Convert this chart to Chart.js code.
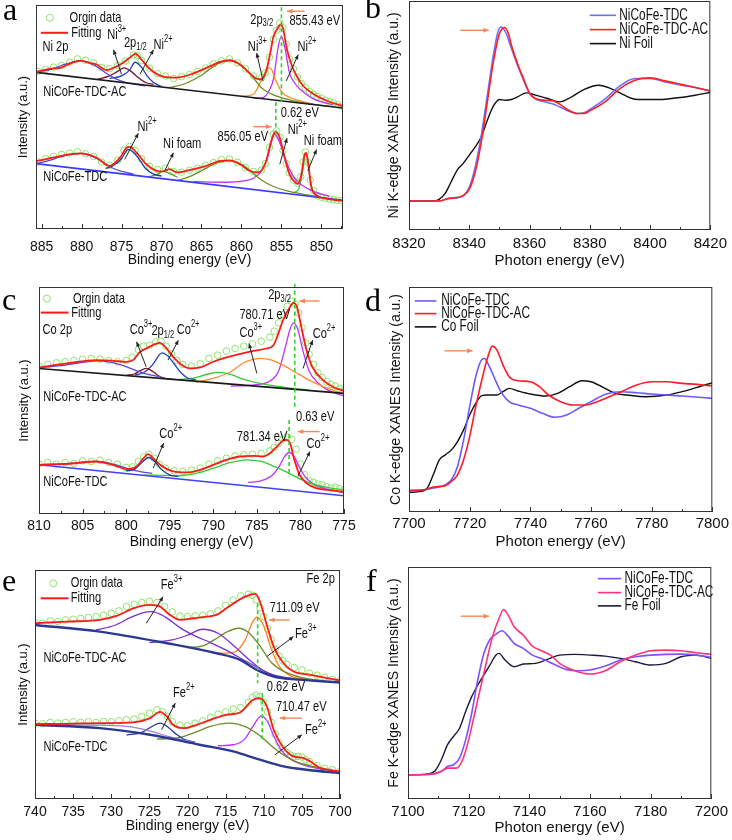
<!DOCTYPE html>
<html lang="en">
<head>
<meta charset="UTF-8">
<title>NiCoFe-TDC XPS and XANES</title>
<style>
  body { margin: 0; background: #fff; }
  #fig { position: relative; width: 732px; height: 840px; background: #fff; }
  #fig canvas { position: absolute; }
</style>
</head>
<body>
<div id="fig">
  <canvas id="pa" width="365" height="280" style="left:0;top:0"></canvas>
  <canvas id="pb" width="367" height="280" style="left:365px;top:0"></canvas>
  <canvas id="pc" width="365" height="280" style="left:0;top:280px"></canvas>
  <canvas id="pd" width="367" height="280" style="left:365px;top:280px"></canvas>
  <canvas id="pe" width="365" height="280" style="left:0;top:560px"></canvas>
  <canvas id="pf" width="367" height="280" style="left:365px;top:560px"></canvas>
</div>
<script src="https://cdn.jsdelivr.net/npm/chart.js"></script>
<script>
// ---------- data: [energy eV, intensity a.u.] ----------

// a: Ni 2p XPS
const aTicks = [885, 880, 875, 870, 865, 860, 855, 850];
const aAcData = [[885.5,482],[884.5,488],[883.5,495],[882.5,500],[881.5,510],[880.5,520],[879.5,516],[878.5,508],[877.5,494],[876.5,490],[875.5,500],[874.5,514],[873.5,532],[873,530],[872.5,515],[871.5,492],[870.5,475],[869.5,468],[868.5,460],[867.5,466],[866.5,472],[865.5,482],[864.5,492],[863.5,505],[862.5,514],[861.5,520],[860.5,508],[859.5,490],[858.5,468],[857.5,462],[857,478],[856.5,525],[856,580],[855.6,608],[855.2,630],[854.8,615],[854.4,565],[854,520],[853.5,490],[853,465],[852.5,445],[852,432],[851.5,420],[851,412],[850.5,405],[850,400],[849.5,394],[849,390],[848.5,385],[848,380],[847.5,376]];
const aAcFit = [[885.7,480],[884,490],[882.7,493],[881,510],[880.2,515],[879,508],[878.1,503],[876.9,486],[875.8,495],[875,505],[874.4,516],[873.5,533],[873.3,536],[872.5,518],[871.5,490],[869.8,466],[868.1,463],[866,476],[863.9,498],[862.7,511],[861.5,516],[860.2,503],[859.2,481],[858.1,460],[857.5,458],[856.9,483],[856.4,538],[856,588],[855.5,613],[855.1,626],[854.8,613],[854.3,548],[853.75,503],[853.1,468],[852.3,438],[851,413],[849.4,393],[847.3,376]];
const aAcBase = [[885.7,479],[847.3,370]];
const aAcSat1 = [[885.7,481],[884,487],[882.5,500],[881,511],[880.2,514],[879,507],[878,495],[877,478],[876,463],[875,452],[873.5,443],[872,438]];
const aAcNi3a = [[878,458],[876.5,468],[875.5,482],[874.7,493],[873.8,482],[873,465],[872,448],[871,442]];
const aAcNi2a = [[876.5,460],[875,468],[874,486],[873.3,510],[872.5,495],[871.8,468],[871,448],[870,436]];
const aAcSat2 = [[869,432],[867,445],[865,470],[863.5,497],[862.5,510],[861.5,515],[860.5,508],[859.5,490],[858.5,462],[857.5,432],[856,410],[854,395],[852,385],[849,375]];
const aAcNi3b = [[860,406],[858.5,412],[857.8,440],[857.2,470],[856.7,493],[856.3,490],[855.8,460],[855,420],[854,403],[853,394],[851,382]];
const aAcNi2b = [[858.5,400],[857.3,402],[856.5,425],[856,458],[855.4,558],[855,588],[854.6,558],[854,478],[853.3,445],[852.7,428],[851,398],[848.5,380]];

const aTdcData = [[885.5,205],[884.5,215],[883.5,222],[882.5,228],[881.5,232],[880.5,236],[879.5,230],[878.5,222],[877.5,205],[876.5,195],[875.5,210],[874.7,240],[874,252],[873.3,240],[872.5,215],[871.5,192],[870.5,182],[869.5,186],[868.5,176],[867.5,174],[866.5,180],[865.5,186],[864.5,195],[863.5,203],[862.5,212],[861.5,214],[860.5,204],[859.5,188],[858.5,176],[857.5,180],[857,200],[856.5,250],[856,290],[855.6,300],[855.2,280],[854.8,240],[854.4,200],[854,172],[853.5,150],[853,140],[852.6,160],[852.3,205],[852,235],[851.7,205],[851.4,150],[851,118],[850.5,102],[850,97],[849.5,94],[849,92],[848.5,90],[848,88],[847.5,86]];
const aTdcFit = [[885.7,208],[885.2,210],[882.7,223],[880.2,231],[878.1,218],[876.5,193],[875.2,218],[874.4,248],[874,251],[873.1,233],[871.9,198],[870.6,178],[869.8,176],[869,183],[868.1,173],[866.5,180],[864.4,193],[862.7,208],[861.5,210],[860.2,198],[859,178],[857.9,173],[856.9,208],[856.4,258],[855.9,293],[855.6,296],[855.2,278],[854.6,218],[854,168],[853.3,143],[852.9,138],[852.5,168],[852.1,228],[851.9,233],[851.7,208],[851.25,128],[850.6,103],[849.4,93],[847.3,86]];
const aTdcBase = [[885.7,200],[847.3,88]];
const aTdcSat1 = [[885.7,200],[884,210],[882.5,222],[881,229],[880.2,231],[879,225],[878,214],[877,198],[876,185],[875,176],[873.5,168]];
const aTdcNi2a = [[877,185],[876,195],[875,215],[874.2,243],[873.5,235],[872.7,210],[872,185],[871,168],[870,162]];
const aTdcFoam1 = [[871.5,160],[870.5,167],[869.8,176],[869,170],[868,158]];
const aTdcSat2 = [[868,148],[866.5,160],[865,178],[863.5,198],[862.5,206],[861.5,209],[860.5,204],[859.5,190],[858.5,170],[857.5,150],[856,130],[854,115],[852,105],[850,97]];
const aTdcNi2b = [[866,145],[862,143],[859.5,148],[858.5,155],[857.5,178],[856.8,215],[856.3,262],[855.9,290],[855.5,280],[855,250],[854.3,200],[853.5,160],[852.5,135],[851,115],[849,100]];
const aTdcFoam2 = [[853.5,110],[852.8,125],[852.4,170],[852,228],[851.7,210],[851.4,150],[851,112],[850.3,100]];

// b: Ni K-edge XANES
const bTicks = [8320, 8340, 8360, 8380, 8400, 8420];
const bTdc = [[8320,87],[8330,87],[8333,95],[8336,98],[8338,103],[8340,128],[8342,190],[8344,285],[8346,405],[8348,525],[8349.5,595],[8350.5,610],[8352,595],[8354,545],[8356,495],[8358,450],[8360,410],[8362,393],[8365,385],[8368,378],[8370,370],[8373,357],[8376,350],[8378,352],[8380,362],[8385,393],[8390,433],[8395,455],[8400,455],[8405,445],[8410,436],[8415,428],[8420,418]];
const bAc = [[8320,87],[8330,87],[8333,94],[8336,97],[8338,103],[8340,122],[8342,175],[8344,265],[8346,385],[8348,505],[8350,590],[8351.8,608],[8353,590],[8354,555],[8356,500],[8358,455],[8360,412],[8362,395],[8365,390],[8368,388],[8370,378],[8373,360],[8376,350],[8378,350],[8380,358],[8385,385],[8390,425],[8395,450],[8400,457],[8405,448],[8410,438],[8415,428],[8420,418]];
const bFoil = [[8320,87],[8328,87],[8330,92],[8332,110],[8334,145],[8336,180],[8338,200],[8340,225],[8342,250],[8344,280],[8346,330],[8348,372],[8350,392],[8352,390],[8354,392],[8356,400],[8359,412],[8362,405],[8366,395],[8370,385],[8374,400],[8378,422],[8383,435],[8387,425],[8390,412],[8395,393],[8400,392],[8405,393],[8410,398],[8415,405],[8420,413]];

// c: Co 2p XPS
const cTicks = [810, 805, 800, 795, 790, 785, 780, 775];
const cAcData = [[810,445],[809,450],[808,455],[807,458],[806,462],[805,466],[804,468],[803,466],[802,462],[801,458],[800,462],[799.3,472],[798.6,495],[798,505],[797.3,508],[796.6,518],[796,520],[795.4,505],[794.8,482],[794.2,462],[793.5,450],[792.5,445],[791.5,452],[790.5,468],[789.5,478],[788.5,490],[787.5,498],[786.5,505],[785.5,512],[784.5,520],[783.5,532],[783,550],[782.5,575],[782,600],[781.5,625],[781,640],[780.6,632],[780.2,605],[779.8,560],[779.4,515],[779,480],[778.5,450],[778,425],[777.5,410],[777,398],[776.5,390],[776,385],[775.5,378],[775,372]];
const cAcFit = [[810,441],[806.8,453],[803.4,463],[801.5,461],[800,458],[799.2,463],[798.4,488],[797.7,498],[796.7,511],[796.1,515],[795.6,505],[794.6,473],[793.6,448],[792.7,438],[791.5,441],[790,458],[788.5,471],[787,481],[785.4,491],[783.9,498],[783.1,508],[782.6,538],[782,583],[781.2,623],[780.8,635],[780.4,623],[779.9,563],[779.3,493],[778.6,441],[777.4,403],[776.3,383],[775,370]];
const cAcBase = [[810,438],[775,363]];
const cAcSat1 = [[810,440],[807,448],[805,456],[803.4,461],[802,458],[800.5,448],[799,433],[797.5,420],[796,413]];
const cAcCo3a = [[800,417],[799,422],[798.3,432],[797.7,438],[797,430],[796.3,416],[795.5,408],[794.5,405]];
const cAcCo2a = [[799,418],[798,425],[797,448],[796.3,475],[795.9,485],[795.2,475],[794.5,452],[793.7,425],[793,410],[792,403]];
const cAcSat2 = [[794,404],[792,410],[790.5,422],[789.4,426],[788,420],[786.5,405],[784.5,392],[782,382],[779,373]];
const cAcCo3b = [[792,397],[790,408],[788,428],[786.5,455],[785.3,466],[784.5,468],[783.3,463],[782,448],[780.5,425],[779,403],[777.5,385],[776,370],[775,360]];
const cAcCo2b = [[788,385],[785.5,388],[783.5,400],[782.5,430],[781.7,505],[781.2,555],[780.8,575],[780.3,555],[779.7,490],[779,430],[778,395],[777,375],[775,355]];

const cTdcData = [[810,150],[809,155],[808,150],[807,155],[806,152],[805,160],[804,158],[803,162],[802,155],[801,150],[800,140],[799.3,142],[798.6,158],[798,172],[797.4,180],[796.8,168],[796.2,150],[795.5,138],[794.5,130],[793.5,128],[792.5,132],[791.5,138],[790.5,150],[789.5,160],[788.5,168],[787.5,175],[786.5,178],[785.5,180],[784.5,182],[783.5,190],[783,200],[782.5,212],[782,225],[781.5,232],[781,225],[780.5,195],[780,150],[779.5,118],[779,100],[778.5,95],[778,90],[777.5,88],[777,82],[776.5,78],[776,80],[775.5,76],[775,72]];
const cTdcFit = [[810,148],[806.8,151],[803.4,158],[801.5,148],[800,135],[798.8,143],[798,168],[797.5,180],[796.9,168],[796.1,148],[794.6,128],[793.1,125],[791.5,133],[790,148],[788.5,163],[787,173],[785.4,175],[784.3,173],[783.5,183],[782.7,203],[782,221],[781.6,223],[781.2,213],[780.7,163],[780.1,118],[779.3,93],[778.2,78],[776.3,71],[775,67]];
const cTdcBase = [[810,148],[775,55]];
const cTdcSat1 = [[810,148],[806.5,152],[803.4,158],[801.5,150],[800,138],[798.5,128],[797,122]];
const cTdcCo2a = [[800,130],[799,135],[798.2,155],[797.4,170],[796.7,158],[796,135],[795,118],[794,113]];
const cTdcSat2 = [[798,118],[794,115],[791.5,125],[789.5,142],[788,155],[786.2,163],[784.5,158],[783,143],[781.5,125],[780,105],[778.5,90],[776.5,78],[775,72]];
const cTdcCo2b = [[786,95],[784.5,100],[783.3,115],[782.5,140],[781.9,170],[781.3,185],[780.7,172],[780.1,140],[779.4,110],[778.5,90],[777,75],[775,64]];

// d: Co K-edge XANES
const dTicks = [7700, 7720, 7740, 7760, 7780, 7800];
const dTdc = [[7700,64],[7705,67],[7708,72],[7710,75],[7712,82],[7714,97],[7716,137],[7718,217],[7720,317],[7722,407],[7724,459],[7725,462],[7726,447],[7728,407],[7730,367],[7733,332],[7736,322],[7740,312],[7744,297],[7748,285],[7752,292],[7756,312],[7760,332],[7765,355],[7770,362],[7775,359],[7780,355],[7790,349],[7800,342]];
const dAc = [[7700,65],[7705,67],[7708,75],[7710,77],[7712,79],[7714,92],[7716,112],[7718,157],[7720,227],[7722,317],[7724,397],[7726,467],[7727.5,499],[7729,487],[7731,442],[7733,407],[7736,395],[7740,392],[7743,377],[7746,352],[7750,332],[7754,322],[7758,322],[7762,332],[7766,347],[7770,362],[7775,382],[7780,392],[7785,392],[7790,387],[7795,384],[7800,379]];
const dFoil = [[7700,59],[7704,62],[7706,72],[7708,112],[7710,157],[7712,172],[7714,187],[7716,212],[7718,247],[7720,292],[7722,327],[7724,350],[7726,352],[7729,352],[7731,362],[7733,372],[7736,364],[7740,355],[7745,349],[7749,357],[7753,377],[7757,395],[7760,392],[7764,375],[7768,357],[7772,352],[7778,347],[7785,352],[7790,362],[7795,375],[7800,389]];

// e: Fe 2p XPS
const eTicks = [740, 735, 730, 725, 720, 715, 710, 705, 700];
const eAcData = [[740,530],[739,528],[738,535],[737,533],[736,538],[735,540],[734,542],[733,545],[732,548],[731,552],[730,558],[729,565],[728,578],[727,585],[726,590],[725,594],[724,590],[723,578],[722,562],[721,550],[720,548],[719,550],[718,552],[717,556],[716,565],[715,582],[714,598],[713,610],[712,615],[711.5,612],[711,598],[710.5,575],[710,548],[709.5,512],[709,478],[708.5,450],[708,430],[707.5,415],[707,405],[706,395],[705,388],[704,378],[703,372],[702,366],[701,360],[700,356]];
const eAcFit = [[740,528],[735.8,533],[731.5,538],[729.3,550],[727.1,573],[724.9,583],[723.6,578],[722.3,553],[721,538],[719.2,543],[717.5,548],[716.2,553],[714.9,573],[713.6,593],[712.2,610],[711.1,616],[710.5,593],[709.6,523],[708.7,458],[707.4,408],[706.1,383],[703.9,373],[701.7,363],[700,356]];
const eAcBase = [[740,523],[731.5,503],[722.7,468],[716.2,438],[713.1,418],[710.9,388],[708.7,368],[706.1,360],[700,350]];
const eAcSat1 = [[732,508],[729.5,522],[727.5,545],[725.8,560],[724.7,563],[723,548],[721,515],[719,490],[717,470],[715,448],[712,410],[709,375],[706,360]];
const eAcSat2 = [[725,470],[722,478],[720,492],[718,510],[716,498],[714,462],[712,420],[710,385],[708,365],[705,357]];
const eAcFe3a = [[720,455],[718,460],[716.5,478],[715,500],[713.3,513],[712,500],[710.5,460],[709,410],[707.5,385],[705,365],[702,355]];
const eAcFe3b = [[716,438],[714,440],[712.5,475],[711.5,530],[710.9,546],[710,520],[709,450],[708,400],[706.5,370],[704,358]];

const eTdcData = [[740,228],[739,226],[738,230],[737,228],[736,230],[735,232],[734,230],[733,232],[732,230],[731,233],[730,232],[729,235],[728,238],[727,240],[726,248],[725,258],[724,268],[723.3,262],[722.6,248],[722,232],[721,222],[720,220],[719,228],[718,235],[717,245],[716,255],[715,262],[714,270],[713,275],[712,290],[711.5,305],[711,312],[710.5,308],[710,290],[709.5,262],[709,230],[708.5,195],[708,170],[707.5,152],[707,140],[706.5,132],[706,128],[705.5,128],[705,126],[704.5,118],[704,112],[703,100],[702,92],[701,88],[700,84]];
const eTdcFit = [[740,225],[735.8,226],[731.5,228],[727.1,230],[724.9,243],[723.6,262],[722.7,248],[721.9,223],[720.5,213],[718.8,223],[717,238],[714.9,253],[713.1,260],[711.4,298],[710.5,303],[709.6,278],[708.7,208],[707.4,153],[706.1,128],[704.8,123],[703.9,113],[702.6,93],[700,83]];
const eTdcBase = [[740,223],[731.5,213],[724.9,193],[718.4,163],[714,143],[710.5,118],[707.4,98],[704.4,88],[700,78]];
const eTdcSat1 = [[740,223],[733,222],[728,218],[725,205],[722,185],[719,170]];
const eTdcFe2a = [[728,192],[726,200],[724.5,220],[723.6,228],[722.5,215],[721.5,195],[720.5,180],[719,170]];
const eTdcSat2 = [[724,180],[721,185],[719,200],[717,218],[714.5,228],[712.5,218],[710.5,190],[708.5,150],[706.5,120],[704,100],[701,88]];
const eTdcFe2b = [[716,160],[714,163],[712.5,180],[711.5,215],[710.3,250],[709.5,232],[708.7,190],[707.8,150],[706.5,120],[704.5,100],[702,88]];

// f: Fe K-edge XANES
const fTicks = [7100, 7120, 7140, 7160, 7180, 7200];
const fTdc = [[7100,73],[7106,73],[7110,80],[7112,90],[7113,98],[7115,103],[7117,123],[7119,178],[7121,258],[7123,358],[7125,438],[7127,480],[7129,496],[7131,506],[7133,490],[7135,468],[7138,453],[7141,433],[7144,423],[7148,406],[7152,390],[7156,386],[7160,388],[7165,400],[7170,418],[7175,428],[7180,433],[7190,436],[7195,433],[7200,426]];
const fAc = [[7100,73],[7108,75],[7111,83],[7113,93],[7116,93],[7118,118],[7120,178],[7122,258],[7124,338],[7126,418],[7128,493],[7130,543],[7131.5,570],[7133,553],[7135,518],[7138,493],[7141,460],[7144,446],[7147,433],[7150,408],[7155,386],[7160,376],[7165,386],[7170,413],[7175,433],[7180,446],[7185,448],[7190,446],[7195,440],[7200,435]];
const fFoil = [[7100,73],[7106,75],[7109,86],[7111,118],[7113,163],[7115,188],[7117,213],[7119,263],[7121,308],[7123,343],[7125,373],[7127,403],[7129,433],[7130,438],[7132,418],[7135,398],[7138,406],[7142,408],[7146,420],[7150,433],[7155,435],[7160,433],[7165,430],[7170,423],[7175,413],[7180,403],[7185,408],[7190,428],[7195,433],[7200,423]];

const xanesNames = ['NiCoFe-TDC', 'NiCoFe-TDC-AC'];

// ---------- styling / drawing ----------
const SANS = "'Liberation Sans', Arial, sans-serif";
const SERIF = "'Liberation Serif', 'Times New Roman', serif";
const RED = '#ff1a1a';
const DOT = '#8de36b';
const SQUEEZE = 0.74;   // the source figure's lettering is horizontally compressed

const pts = arr => arr.map(([x, y]) => ({x, y}));
const line = (arr, color, width, order, label) => ({
  label: label || '', data: pts(arr), borderColor: color, borderWidth: width,
  pointRadius: 0, fill: false, cubicInterpolationMode: 'monotone', order
});
const circles = arr => ({
  label: 'Orgin data', data: pts(arr), showLine: false, borderColor: DOT,
  pointRadius: 3.3, pointBorderColor: DOT, pointBackgroundColor: 'rgba(0,0,0,0)',
  pointBorderWidth: 1, order: 20
});

function richText(ctx, x, y, text, size) {
  const parts = text.split(/(\^\{[^}]*\}|_\{[^}]*\})/).filter(Boolean);
  ctx.save();
  ctx.translate(x, y);
  ctx.scale(SQUEEZE, 1);
  let cx = 0;
  parts.forEach(p => {
    let t = p, fs = size, dy = 0;
    if (p[0] === '^') { t = p.slice(2, -1); fs = size * 0.68; dy = -size * 0.38; }
    else if (p[0] === '_') { t = p.slice(2, -1); fs = size * 0.68; dy = size * 0.28; }
    ctx.font = fs + 'px ' + SANS;
    ctx.fillText(t, cx, dy);
    cx += ctx.measureText(t).width;
  });
  ctx.restore();
}

function arrow(ctx, x1, y1, x2, y2, color, w, head) {
  ctx.strokeStyle = color; ctx.fillStyle = color; ctx.lineWidth = w;
  ctx.beginPath(); ctx.moveTo(x1, y1); ctx.lineTo(x2, y2); ctx.stroke();
  const a = Math.atan2(y2 - y1, x2 - x1);
  ctx.beginPath();
  ctx.moveTo(x2, y2);
  ctx.lineTo(x2 - head * Math.cos(a - 0.42), y2 - head * Math.sin(a - 0.42));
  ctx.lineTo(x2 - head * Math.cos(a + 0.42), y2 - head * Math.sin(a + 0.42));
  ctx.closePath(); ctx.fill();
}

const decoCfg = {};

const deco = {
  id: 'deco',
  afterDatasetsDraw(chart) {
    const d = decoCfg[chart.canvas.id];
    const {ctx, chartArea: ca} = chart;
    const sx = chart.scales.x, sy = chart.scales.y;
    const X = v => sx.getPixelForValue(v), Y = v => sy.getPixelForValue(v);
    ctx.save();

    ctx.setLineDash([4, 3]); ctx.strokeStyle = '#2fd42f'; ctx.lineWidth = 1.6;
    (d.guides || []).forEach(([e, y1, y2]) => {
      ctx.beginPath(); ctx.moveTo(X(e), Y(y1)); ctx.lineTo(X(e), Y(y2)); ctx.stroke();
    });
    ctx.setLineDash([]);
    (d.pointers || []).forEach(([e1, y1, e2, y2]) => arrow(ctx, X(e1), Y(y1), X(e2), Y(y2), '#222', 1, 5));
    (d.shifts || []).forEach(([e1, y1, e2, y2]) => arrow(ctx, X(e1), Y(y1), X(e2), Y(y2), '#f0895a', 1.4, 6));

    ctx.textBaseline = 'middle'; ctx.textAlign = 'left';
    (d.notes || []).forEach(([e, y, t]) => { ctx.fillStyle = '#111'; richText(ctx, X(e), Y(y), t, 15); });

    if (d.fitKey) {
      const k = d.fitKey;
      ctx.strokeStyle = DOT; ctx.lineWidth = 1;
      ctx.beginPath(); ctx.arc(X(k.dot[0]), Y(k.dot[1]), 3.5, 0, Math.PI * 2); ctx.stroke();
      ctx.strokeStyle = RED; ctx.lineWidth = 2;
      ctx.beginPath(); ctx.moveTo(X(k.line[0]), Y(k.line[2])); ctx.lineTo(X(k.line[1]), Y(k.line[2])); ctx.stroke();
    }

    if (d.key) {
      const k = d.key;
      k.ys.forEach((y, i) => {
        const ds = chart.data.datasets[i];
        ctx.strokeStyle = ds.borderColor; ctx.lineWidth = 1.6;
        ctx.beginPath(); ctx.moveTo(X(k.x1), Y(y)); ctx.lineTo(X(k.x2), Y(y)); ctx.stroke();
        ctx.fillStyle = '#111';
        richText(ctx, X(k.tx), Y(y), ds.label, 16);
      });
    }

    // frame and inward ticks
    ctx.strokeStyle = '#333'; ctx.lineWidth = 1;
    ctx.strokeRect(ca.left + 0.5, ca.top + 0.5, ca.width - 1, ca.height - 1);
    const tv = d.ticks, step = tv[1] - tv[0];
    const lo = Math.min(sx.min, sx.max), hi = Math.max(sx.min, sx.max);
    const tick = (v, len) => {
      if (v < lo - 1e-6 || v > hi + 1e-6) return;
      const px = Math.round(X(v)) + 0.5;
      ctx.beginPath(); ctx.moveTo(px, ca.bottom); ctx.lineTo(px, ca.bottom - len); ctx.stroke();
    };
    tv.forEach(v => tick(v, 5));
    const minors = [tv[0] - step / 2, ...tv.map(v => v + step / 2)];
    minors.forEach(v => tick(v, 3));

    ctx.fillStyle = '#000'; ctx.textBaseline = 'alphabetic';
    ctx.font = '32px ' + SERIF;
    ctx.fillText(d.letter[0], d.letter[1], d.letter[2]);
    ctx.restore();
  }
};

function build(id, p) {
  const [L, T, R, B] = p.area;
  const W = p.xps ? 365 : 367, H = 280;
  const fs = p.xps ? 14 : 15;
  decoCfg[id] = p.deco;
  p.deco.ticks = p.ticks;
  return new Chart(document.getElementById(id), {
    type: 'line',
    data: { datasets: p.datasets },
    options: {
      responsive: false,
      animation: false,
      layout: { padding: { left: 0, top: T, right: W - R, bottom: 0 } },
      plugins: { legend: { display: false }, tooltip: { enabled: false } },
      scales: {
        x: {
          type: 'linear', reverse: p.xps, min: p.xmin, max: p.xmax,
          grid: { display: false, drawTicks: false }, border: { display: false },
          afterBuildTicks: s => { s.ticks = p.ticks.map(v => ({ value: v })); },
          afterFit: s => { s.height = H - B; },
          ticks: {
            autoSkip: false, maxRotation: 0, padding: p.tickPad, color: '#111',
            font: { family: SANS, size: fs },
            callback: v => String(v)
          },
          title: {
            display: true, text: p.xps ? 'Binding energy (eV)' : 'Photon energy (eV)', color: '#111',
            font: { family: SANS, size: fs },
            padding: { top: 0, bottom: p.titlePad }
          }
        },
        y: {
          min: 0, max: p.ymax,
          ticks: { display: false }, grid: { display: false, drawTicks: false }, border: { display: false },
          afterFit: s => { s.width = L; },
          title: {
            display: true, text: p.yTitle, color: '#111',
            font: { family: SANS, size: p.xps ? 13 : 14 },
            padding: { top: p.yPad, bottom: 0 }
          }
        }
      }
    },
    plugins: [deco]
  });
}

// a
build('pa', {
  xps: true, area: [36, 1, 343, 229], xmin: 847.3, xmax: 885.7, ymax: 685, ticks: aTicks,
  tickPad: 10, titlePad: 11, yPad: 16, yTitle: 'Intensity (a.u.)',
  datasets: [
    line(aAcFit, RED, 1.8, 1), line(aTdcFit, RED, 1.8, 1),
    line(aAcBase, '#1a1a1a', 1.6, 4), line(aTdcBase, '#3a3aff', 1.6, 4),
    line(aAcSat1, '#5b46d8', 1.3, 5), line(aAcNi3a, '#7a0f30', 1.3, 5), line(aAcNi2a, '#1f3fbf', 1.3, 5),
    line(aAcSat2, '#6b8e23', 1.3, 5), line(aAcNi3b, '#ff8a1f', 1.3, 5), line(aAcNi2b, '#c030ff', 1.3, 5),
    line(aTdcSat1, '#5b46d8', 1.3, 5), line(aTdcNi2a, '#1a3aa0', 1.3, 5), line(aTdcFoam1, '#7a8a2a', 1.3, 5),
    line(aTdcSat2, '#6b8e23', 1.3, 5), line(aTdcNi2b, '#c030ff', 1.3, 5), line(aTdcFoam2, '#2fcf2f', 1.3, 5),
    circles(aAcData), circles(aTdcData)
  ],
  deco: {
    letter: ['a', 3, 20],
    guides: [[855.0, 678, 388], [855.7, 388, 290]],
    shifts: [[852.1, 666, 854.3, 666], [858.5, 313, 856.25, 313]],
    pointers: [[875.0,473,876.0,548],[872.7,473,871.0,548],[857.3,453,858.1,538],[854.4,453,852.9,533],[874.6,213,872.9,293],[869.6,178,868.5,233],[855.2,198,854.3,278],[851.7,178,850.6,243]],
    fitKey: { dot: [883.96, 646], line: [885.1, 881.7, 600] },
    notes: [
      [881.5, 646, 'Orgin data'], [881.3, 600, 'Fitting'], [884.9, 556, 'Ni 2p'],
      [876.8, 593, 'Ni^{3+}'], [874.7, 570, '2p_{1/2}'], [871.0, 563, 'Ni^{2+}'],
      [858.9, 641, '2p_{3/2}'], [854.0, 638, '855.43 eV'], [859.2, 558, 'Ni^{3+}'], [853.0, 558, 'Ni^{2+}'],
      [884.8, 418, 'NiCoFe-TDC-AC'], [855.1, 356, '0.62 eV'], [873.0, 313, 'Ni^{2+}'],
      [869.8, 260, 'Ni foam'], [863.0, 283, '856.05 eV'], [854.2, 303, 'Ni^{2+}'],
      [852.2, 270, 'Ni foam'], [884.8, 158, 'NiCoFe-TDC']
    ]
  }
});

// b
build('pb', {
  xps: false, area: [44, 1, 348, 230], xmin: 8320, xmax: 8420, ymax: 688, ticks: bTicks,
  tickPad: 5, titlePad: 10, yPad: 21, yTitle: 'Ni K-edge XANES Intensity (a.u.)',
  datasets: [
    line(bTdc, '#7070ff', 1.6, 2, xanesNames[0]), line(bAc, '#ff2020', 1.6, 1, xanesNames[1]),
    line(bFoil, '#111111', 1.4, 3, 'Ni Foil')
  ],
  deco: {
    letter: ['b', 0, 18],
    shifts: [[8337, 600, 8346.5, 600]],
    key: { x1: 8380, x2: 8388.7, tx: 8389.8, ys: [645, 602, 560] }
  }
});

// c
build('pc', {
  xps: true, area: [39, 7, 344, 234], xmin: 775, xmax: 810, ymax: 683, ticks: cTicks,
  tickPad: 4, titlePad: 9, yPad: 17, yTitle: 'Intensity (a.u.)',
  datasets: [
    line(cAcFit, RED, 1.8, 1), line(cTdcFit, RED, 1.8, 1),
    line(cAcBase, '#1a1a1a', 1.6, 4), line(cTdcBase, '#4040ff', 1.6, 4),
    line(cAcSat1, '#5b46d8', 1.3, 5), line(cAcCo3a, '#7a0f30', 1.3, 5), line(cAcCo2a, '#2040c0', 1.3, 5),
    line(cAcSat2, '#33cc33', 1.3, 5), line(cAcCo3b, '#ff8a33', 1.3, 5), line(cAcCo2b, '#c030ff', 1.3, 5),
    line(cTdcSat1, '#5b46d8', 1.3, 5), line(cTdcCo2a, '#1a3aa0', 1.3, 5),
    line(cTdcSat2, '#33cc33', 1.3, 5), line(cTdcCo2b, '#c030ff', 1.3, 5),
    circles(cAcData), circles(cTdcData)
  ],
  deco: {
    letter: ['c', 2, 30],
    guides: [[780.65, 693, 318], [781.3, 283, 113]],
    shifts: [[777.8, 641, 780.1, 641], [777.8, 248, 780.3, 248]],
    pointers: [[797.7,443,798.8,518],[795.2,463,794.0,523],[785.0,423,785.9,513],[779.7,438,778.6,523],[796.9,138,795.7,213],[780.3,113,778.9,188]],
    fitKey: { dot: [809.1, 648], line: [809.8, 806.6, 606] },
    notes: [
      [806.1, 648, 'Orgin data'], [806.3, 606, 'Fitting'], [809.6, 553, 'Co 2p'],
      [799.6, 553, 'Co^{3+}'], [797.1, 550, '2p_{1/2}'], [794.2, 553, 'Co^{2+}'],
      [783.7, 658, '2p_{3/2}'], [787.0, 600, '780.71 eV'], [787.0, 545, 'Co^{3+}'], [778.6, 543, 'Co^{2+}'],
      [809.5, 353, 'NiCoFe-TDC-AC'], [780.5, 293, '0.63 eV'], [796.2, 240, 'Co^{2+}'],
      [787.3, 233, '781.34 eV'], [779.3, 210, 'Co^{2+}'], [809.5, 98, 'NiCoFe-TDC']
    ]
  }
});

// d
build('pd', {
  xps: false, area: [44, 7, 349, 232], xmin: 7700, xmax: 7800, ymax: 677, ticks: dTicks,
  tickPad: 3, titlePad: 9, yPad: 23, yTitle: 'Co K-edge XANES Intensity (a.u.)',
  datasets: [
    line(dTdc, '#6a5aff', 1.6, 2, xanesNames[0]), line(dAc, '#ff1a2a', 1.6, 1, xanesNames[1]),
    line(dFoil, '#111111', 1.4, 3, 'Co Foil')
  ],
  deco: {
    letter: ['d', 0, 31],
    shifts: [[7711.7, 485, 7721, 485]],
    key: { x1: 7701.9, x2: 7709, tx: 7710.6, ys: [635, 597, 557] }
  }
});

// e
build('pe', {
  xps: true, area: [35, 10, 340, 239], xmin: 700, xmax: 740, ymax: 688, ticks: eTicks,
  tickPad: 5, titlePad: 5, yPad: 16, yTitle: 'Intensity (a.u.)',
  datasets: [
    line(eAcFit, RED, 1.8, 1), line(eTdcFit, RED, 1.8, 1),
    line(eAcBase, '#2b3990', 2.4, 4), line(eTdcBase, '#2b3990', 2.4, 4),
    line(eAcSat1, '#7a30d0', 1.3, 5), line(eAcSat2, '#7a30d0', 1.3, 5),
    line(eAcFe3a, '#6b8e23', 1.3, 5), line(eAcFe3b, '#ff8020', 1.3, 5),
    line(eTdcSat1, '#9a80e0', 1.3, 5), line(eTdcFe2a, '#1a3aa0', 1.3, 5),
    line(eTdcSat2, '#6b8e23', 1.3, 5), line(eTdcFe2b, '#c030ff', 1.3, 5),
    circles(eAcData), circles(eTdcData)
  ],
  deco: {
    letter: ['e', 2, 31],
    guides: [[710.8, 588, 348], [710.2, 318, 173]],
    shifts: [[706.6, 538, 709.3, 538], [705.0, 243, 707.9, 243]],
    pointers: [[725.4,528,723.2,608],[709.6,428,706.1,488],[723.4,208,721.6,288],[708.5,133,705.0,193]],
    fitKey: { dot: [737.6, 648], line: [739.26, 735.6, 603] },
    notes: [
      [735.3, 648, 'Orgin data'], [735.3, 603, 'Fitting'], [723.5, 643, 'Fe^{3+}'],
      [704.4, 660, 'Fe 2p'], [709.2, 575, '711.09 eV'], [705.9, 496, 'Fe^{3+}'],
      [738.9, 423, 'NiCoFe-TDC-AC'], [709.6, 336, '0.62 eV'], [721.9, 318, 'Fe^{2+}'],
      [708.4, 278, '710.47 eV'], [704.6, 208, 'Fe^{2+}'], [738.9, 156, 'NiCoFe-TDC']
    ]
  }
});

// f
build('pf', {
  xps: false, area: [43, 7, 349, 239], xmin: 7100, xmax: 7200, ymax: 698, ticks: fTicks,
  tickPad: 4, titlePad: 3, yPad: 21, yTitle: 'Fe K-edge XANES Intensity (a.u.)',
  datasets: [
    line(fTdc, '#8050ff', 1.6, 2, xanesNames[0]), line(fAc, '#ff3377', 1.6, 1, xanesNames[1]),
    line(fFoil, '#1a1a3a', 1.4, 3, 'Fe Foil')
  ],
  deco: {
    letter: ['f', 1, 31],
    shifts: [[7117.4, 550, 7126.7, 550]],
    key: { x1: 7162.6, x2: 7170.3, tx: 7171.4, ys: [663, 621, 581] }
  }
});
</script>
</body>
</html>
